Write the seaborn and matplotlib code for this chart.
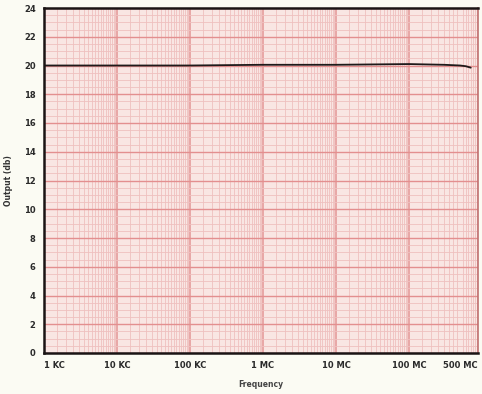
import numpy as np
import pandas as pd
import seaborn as sns
import matplotlib.pyplot as plt
from matplotlib.ticker import LogLocator, MultipleLocator, NullFormatter

# response curve
freq_hz = [1e3, 1e4, 1e5, 1e6, 1e7, 1e8, 3e8, 5e8, 6e8, 7e8]
output_db = [20.0, 20.0, 20.0, 20.05, 20.05, 20.1, 20.05, 20.0, 19.95, 19.85]

tick_pos = [1e3, 1e4, 1e5, 1e6, 1e7, 1e8, 5e8]
tick_labels = ["1 KC", "10 KC", "100 KC", "1 MC", "10 MC", "100 MC", "500 MC"]
decades = [1e3, 1e4, 1e5, 1e6, 1e7, 1e8]
y_ticks = list(range(0, 25, 2))

df = pd.DataFrame({"freq": freq_hz, "out": output_db})

sns.set_style("white")
plt.rcParams["font.family"] = ["DejaVu Sans"]

paper = "#fbfbf3"
ink = "#2a2a2a"

fig = plt.figure(figsize=(4.82, 3.94), dpi=100, facecolor=paper)
ax = fig.add_axes([44 / 482, 1 - 353 / 394, 434 / 482, 345 / 394])
ax.set_facecolor("#f9e6e3")

ax.set_xscale("log")
ax.set_xlim(1e3, 8.8e8)
ax.set_ylim(0, 24)

# graph paper grid
ax.xaxis.set_minor_locator(LogLocator(base=10, subs=np.arange(1, 10, 0.5), numticks=40))
ax.xaxis.set_minor_formatter(NullFormatter())
ax.yaxis.set_major_locator(MultipleLocator(2))
ax.yaxis.set_minor_locator(MultipleLocator(0.5))
ax.grid(which="minor", color="#efc0bf", lw=0.6)
ax.grid(which="major", axis="y", color="#e38f8f", lw=1.0)
for d in decades:
    ax.axvline(d, color="#e59c9c", lw=1.2, zorder=0.5)
ax.set_axisbelow(True)

sns.lineplot(data=df, x="freq", y="out", ax=ax, color="#1e1a1a", lw=1.3)

ax.set_xticks(tick_pos)
ax.set_xticklabels(tick_labels)
ax.set_yticks(y_ticks)
ax.set_yticklabels([str(v) for v in y_ticks])
ax.tick_params(axis="both", which="both", length=0, labelsize=6, colors=ink, pad=6)
for lbl in ax.get_xticklabels() + ax.get_yticklabels():
    lbl.set_fontweight("bold")
ax.get_xticklabels()[0].set_horizontalalignment("left")

ax.set_xlabel("Frequency", fontsize=5.5, fontweight="bold", color="#444", labelpad=7)
ax.set_ylabel("Output (db)", fontsize=5.5, fontweight="bold", color="#333", labelpad=8)

for side in ["left", "bottom", "top"]:
    ax.spines[side].set_visible(True)
    ax.spines[side].set_color("#1a1414")
    ax.spines[side].set_linewidth(1.8)
ax.spines["right"].set_visible(True)
ax.spines["right"].set_color("#c07070")
ax.spines["right"].set_linewidth(1.2)

fig.savefig("out.png", dpi=100, facecolor=paper)
